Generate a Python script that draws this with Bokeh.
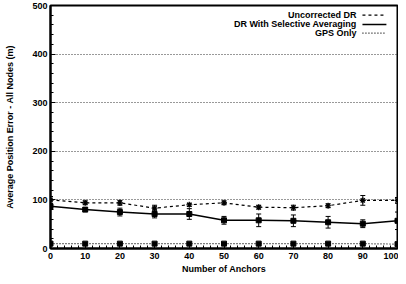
from bokeh.plotting import figure
from bokeh.models import ColumnDataSource, Whisker, TeeHead, Range1d, Label, SingleIntervalTicker
from bokeh.embed import file_html
from bokeh.resources import INLINE

# ---- data ----
anchors = [0, 10, 20, 30, 40, 50, 60, 70, 80, 90, 100]
uncorrected = [100, 94, 94, 83, 90, 94, 85, 84, 88, 99, 99]
uncorrected_err = [7, 4, 5, 6, 3, 4, 4, 5, 4, 10, 6]
selective = [87, 80, 75, 71, 71, 58, 58, 57, 54, 51, 57]
selective_err = [3, 4, 8, 8, 11, 8, 13, 12, 12, 8, 18]
gps_only = [10, 10, 10, 10, 10, 10, 10, 10, 10, 10, 9]

series_names = ["Uncorrected DR", "DR With Selective Averaging", "GPS Only"]
x_ticks_interval = 10
y_ticks_interval = 100

FONT = "Liberation Sans"

p = figure(width=398, height=276, output_backend="svg", toolbar_location=None,
           x_range=Range1d(0, 100), y_range=Range1d(0, 500),
           min_border_left=50, min_border_right=1, min_border_top=5, min_border_bottom=26,
           background_fill_color="white", border_fill_color="white")

p.outline_line_color = "black"
p.outline_line_width = 2

xt = SingleIntervalTicker(interval=x_ticks_interval, num_minor_ticks=5)
yt = SingleIntervalTicker(interval=y_ticks_interval, num_minor_ticks=5)
p.xaxis.ticker = xt
p.yaxis.ticker = yt
p.xgrid.visible = False
p.ygrid.ticker = yt
p.ygrid.grid_line_color = "#333333"
p.ygrid.grid_line_dash = "1 2"
p.ygrid.grid_line_width = 1

for ax in (p.xaxis[0], p.yaxis[0]):
    ax.axis_line_width = 2
    ax.axis_line_color = "black"
    ax.major_tick_in = 5
    ax.major_tick_out = 0
    ax.minor_tick_in = 3
    ax.minor_tick_out = 0
    ax.major_tick_line_color = "black"
    ax.minor_tick_line_color = "black"
    ax.major_label_text_font = FONT
    ax.major_label_text_font_style = "bold"
    ax.major_label_text_font_size = "9px"
    ax.major_label_text_color = "black"
    ax.axis_label_text_font = FONT
    ax.axis_label_text_font_style = "bold"
    ax.axis_label_text_font_size = "9px"
    ax.axis_label_text_color = "black"

p.xaxis.axis_label = "Number of Anchors"
p.yaxis.axis_label = "Average Position Error - All Nodes (m)"
p.xaxis.major_label_standoff = 4
p.yaxis.major_label_standoff = 3
p.xaxis.axis_label_standoff = 2
p.yaxis.axis_label_standoff = 14

src = ColumnDataSource(dict(
    x=anchors,
    unc=uncorrected,
    unc_lo=[v - e for v, e in zip(uncorrected, uncorrected_err)],
    unc_hi=[v + e for v, e in zip(uncorrected, uncorrected_err)],
    sel=selective,
    sel_lo=[v - e for v, e in zip(selective, selective_err)],
    sel_hi=[v + e for v, e in zip(selective, selective_err)],
    gps=gps_only,
))

# GPS only
p.line("x", "gps", source=src, line_color="black", line_width=1.2, line_dash="1 2")
p.scatter("x", "gps", source=src, marker="square", size=5, fill_color="black", line_color="black")

# Uncorrected DR
p.line("x", "unc", source=src, line_color="black", line_width=1.2, line_dash="3 3")
p.add_layout(Whisker(source=src, base="x", lower="unc_lo", upper="unc_hi", dimension="height",
                     line_color="black", line_width=1,
                     upper_head=TeeHead(size=5, line_color="black", line_width=1),
                     lower_head=TeeHead(size=5, line_color="black", line_width=1)))
p.scatter("x", "unc", source=src, marker="asterisk", size=6, line_color="black", line_width=1.2)

# Selective averaging
p.line("x", "sel", source=src, line_color="black", line_width=1.5)
p.add_layout(Whisker(source=src, base="x", lower="sel_lo", upper="sel_hi", dimension="height",
                     line_color="black", line_width=1,
                     upper_head=TeeHead(size=5, line_color="black", line_width=1),
                     lower_head=TeeHead(size=5, line_color="black", line_width=1)))
p.scatter("x", "sel", source=src, marker="square", size=5, fill_color="black", line_color="black")

# Legend (text left of sample, as in the reference)
leg_y = [480, 461, 443]
leg_dash = ["3 3", "solid", "1 2"]
leg_w = [1.2, 1.5, 1.2]
for name, yy, dash, w in zip(series_names, leg_y, leg_dash, leg_w):
    p.add_layout(Label(x=88.2, y=yy, text=name, text_align="right", text_baseline="middle",
                       text_font=FONT, text_font_style="bold", text_font_size="9px",
                       text_color="black"))
    p.line([89.9, 96.8], [yy, yy], line_color="black", line_width=w, line_dash=dash)

open("out.html", "w").write(file_html(p, INLINE))
